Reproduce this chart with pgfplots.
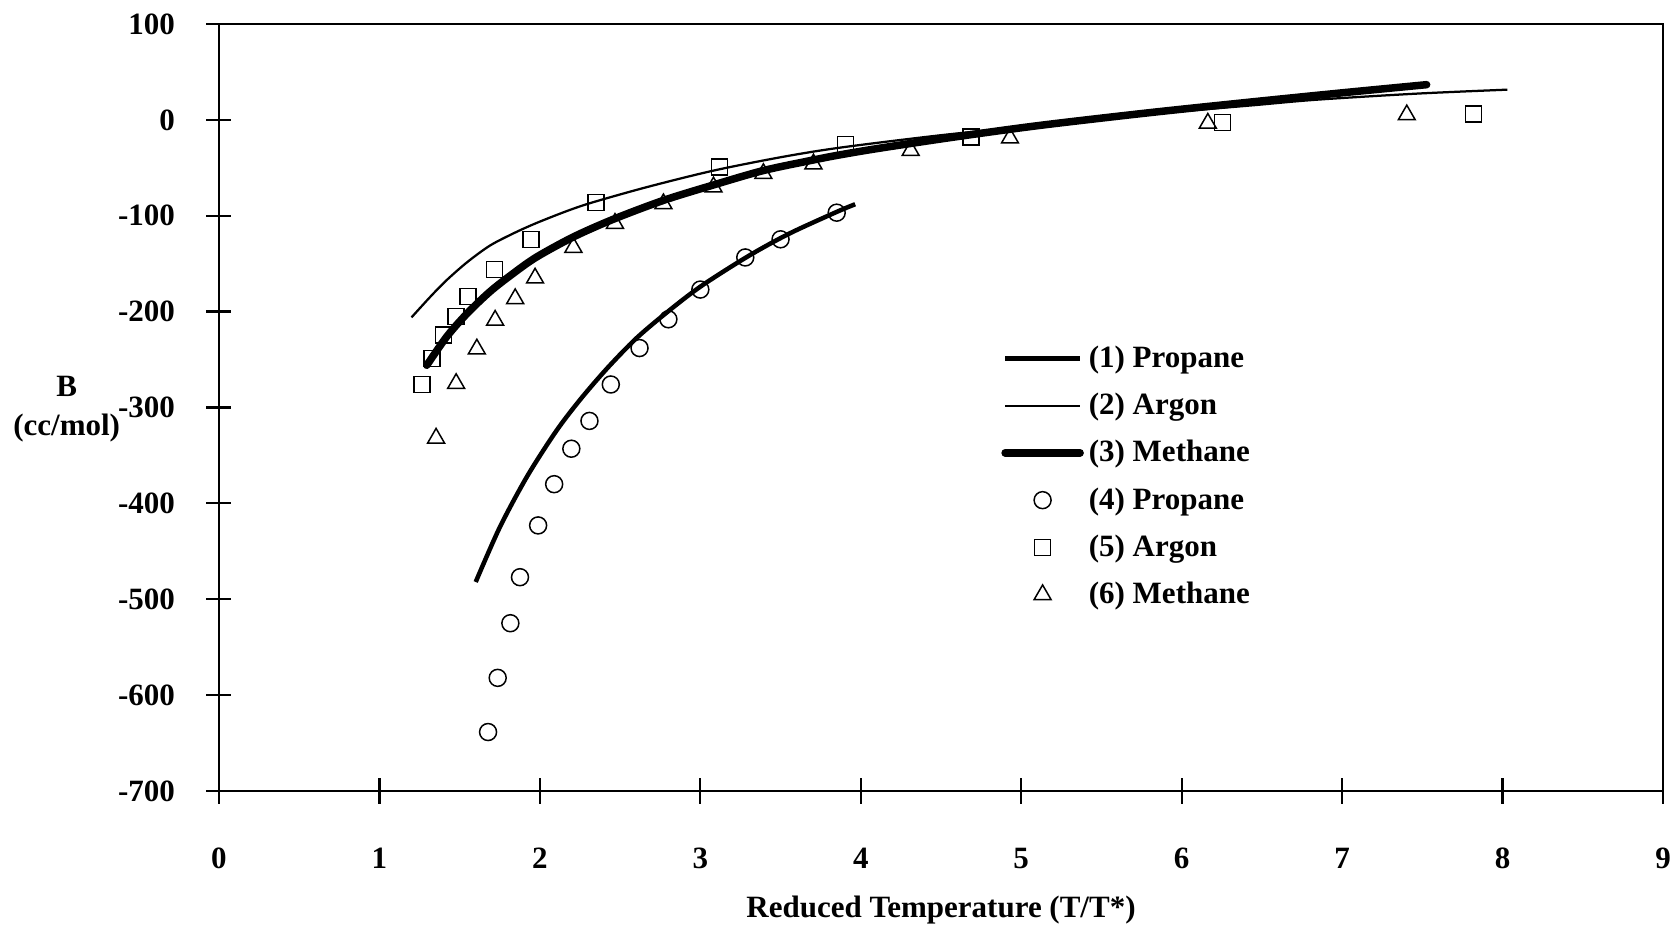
\documentclass[border=0pt]{standalone}
\usepackage{fontspec}
\setmainfont{Liberation Serif}
\usepackage{pgfplots}
\pgfplotsset{compat=1.18}
\begin{document}
\begin{tikzpicture}
\begin{axis}[
  name=ax,
  scale only axis,
  width=577.6pt, height=306.8pt,
  xmin=0, xmax=9, ymin=-700, ymax=100,
  xtick={0,1,...,9}, xticklabels={0,1,2,3,4,5,6,7,8,9},
  ytick={-700,-600,...,100},
  yticklabels={-700,-600,-500,-400,-300,-200,-100,0,100},
  xtick pos=bottom, ytick pos=left,
  tick align=center, major tick length=10pt,
  axis line style={line width=0.9pt},
  every tick/.style={black, line width=0.9pt},
  tick label style={font=\fontsize{12.4}{14}\selectfont\bfseries},
  xticklabel style={anchor=center, yshift=-22pt},
  yticklabel style={xshift=-9.1pt},
  xlabel={Reduced Temperature (T/T*)},
  xlabel style={at={(axis description cs:0.5,-0.155)}, anchor=center,
    font=\fontsize{12.4}{14}\selectfont\bfseries},
  ylabel={B\\(cc/mol)},
  ylabel style={rotate=-90, at={(axis description cs:-0.1055,0.498)},
    anchor=center, align=center,
    font=\fontsize{12.4}{15.5}\selectfont\bfseries},
  legend style={draw=none, fill=none, at={(axis cs:4.873,-372)}, anchor=west,
    inner sep=0pt, row sep=4.8pt,
    font=\fontsize{12.4}{14}\selectfont\bfseries},
  legend cell align=left,
  legend image code/.code={\draw[mark repeat=2,mark phase=2,#1]
    plot coordinates {(0pt,0pt) (15pt,0pt) (30pt,0pt)};},
]
% (1) Propane model line
\addplot[black, line width=1.8pt, smooth] coordinates {
 (1.60,-482) (1.75,-425) (1.92,-372) (2.10,-325) (2.25,-292) (2.42,-259)
 (2.60,-228) (2.79,-201) (3.00,-174) (3.29,-143) (3.55,-119) (3.85,-96) (3.965,-88)};
\addlegendentry{(1) Propane}
% (2) Argon model line
\addplot[black, line width=0.9pt, smooth] coordinates {
 (1.20,-206) (1.32,-184) (1.42,-167) (1.55,-148) (1.69,-131) (1.84,-118)
 (1.98,-107.5) (2.17,-95) (2.33,-86) (2.67,-70) (3.08,-53) (3.50,-39)
 (3.87,-29) (4.50,-16) (5.12,-5.5) (5.80,6) (6.43,15) (6.84,21) (7.47,27.4) (8.03,31.5)};
\addlegendentry{(2) Argon}
% (3) Methane model line
\addplot[black, line width=3pt, smooth, line cap=round] coordinates {
 (1.295,-256) (1.42,-226) (1.546,-202) (1.69,-179) (1.835,-160) (1.98,-143)
 (2.21,-122) (2.46,-103.5) (2.77,-84) (3.08,-68) (3.39,-53) (3.70,-42)
 (3.87,-36.5) (4.12,-29.5) (4.60,-17.5) (5.12,-5.7) (5.80,7.5) (6.43,18.6) (7.00,28.2) (7.527,36.7)};
\addlegendentry{(3) Methane}
% (4) Propane data
\addplot[black, only marks, mark=o, mark size=3.4pt, mark options={line width=0.6pt}] coordinates {
 (1.677,-638.5) (1.737,-582) (1.816,-525) (1.876,-477) (1.989,-423) (2.089,-380)
 (2.196,-343) (2.309,-314) (2.442,-276) (2.621,-238) (2.801,-208) (3.000,-177)
 (3.280,-143.5) (3.500,-124.6) (3.850,-96.8)};
\addlegendentry{(4) Propane}
% (5) Argon data
\addplot[black, only marks, mark=square, mark size=3.2pt, mark options={line width=0.6pt}] coordinates {
 (1.264,-276) (1.326,-249) (1.399,-224.5) (1.476,-205) (1.551,-184) (1.716,-156)
 (1.945,-124.6) (2.350,-86.4) (3.119,-49) (3.906,-25.5) (4.687,-17.8) (6.254,-2.9) (7.818,6)};
\addlegendentry{(5) Argon}
% (6) Methane data
\addplot[black, only marks, mark=triangle, mark size=3.9pt, mark options={line width=0.6pt}] coordinates {
 (1.353,-332) (1.478,-275) (1.607,-239) (1.721,-209) (1.846,-186.5) (1.970,-165)
 (2.209,-133) (2.468,-108) (2.770,-87.5) (3.082,-70) (3.393,-56) (3.705,-46)
 (4.311,-32) (4.93,-19) (6.163,-3.5) (7.403,5.2)};
\addlegendentry{(6) Methane}
\end{axis}
\pgfresetboundingbox
\path ([shift={(-87.6pt,-54.4pt)}]ax.south west) rectangle ([shift={(4.4pt,9.6pt)}]ax.north east);
\end{tikzpicture}
\end{document}
